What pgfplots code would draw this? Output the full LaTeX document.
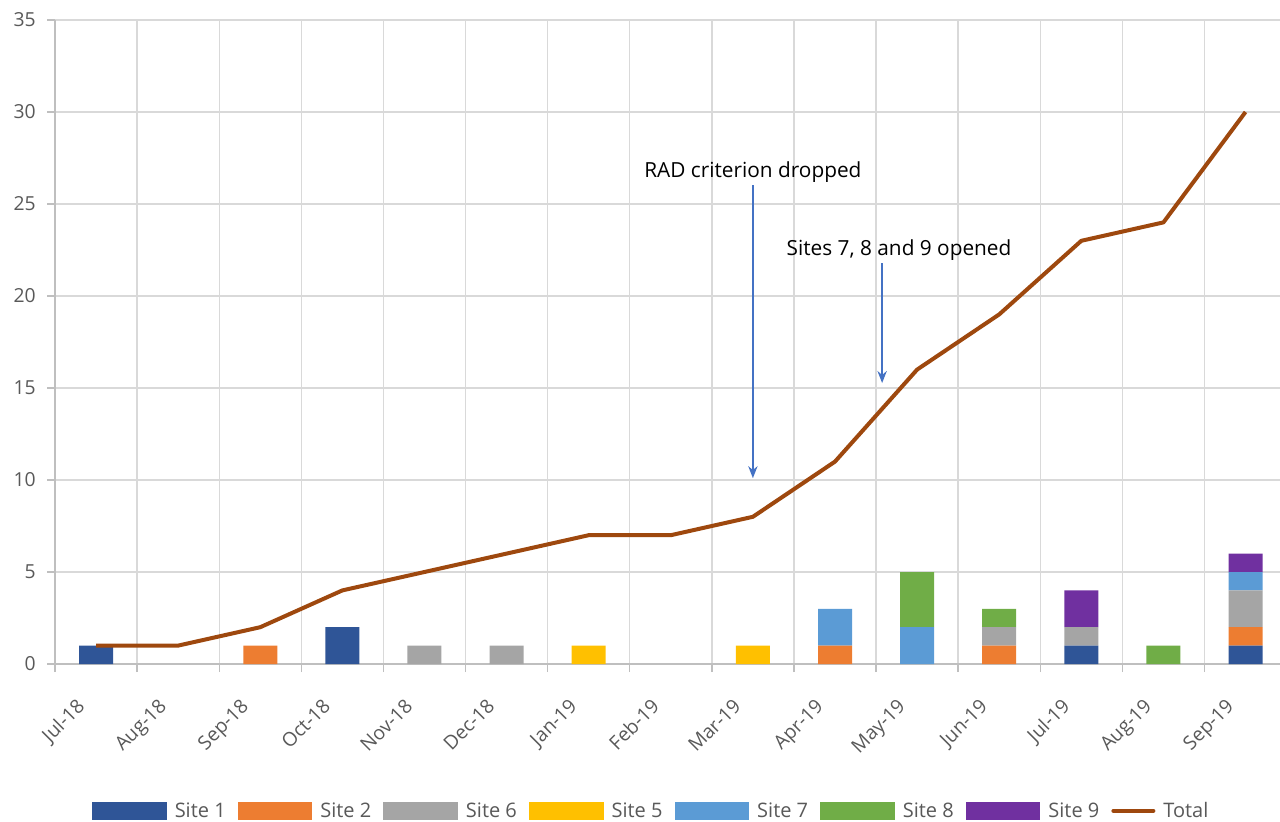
\documentclass[border=0pt]{standalone}
\usepackage{fontspec}
\setmainfont{Open Sans}
\usepackage{pgfplots}
\usepackage{pgfplotstable}
\pgfplotsset{compat=1.18}
\usetikzlibrary{arrows.meta}
\definecolor{sA}{HTML}{2F5597}
\definecolor{sB}{HTML}{ED7D31}
\definecolor{sC}{HTML}{A5A5A5}
\definecolor{sD}{HTML}{FFC000}
\definecolor{sE}{HTML}{5B9BD5}
\definecolor{sF}{HTML}{70AD47}
\definecolor{sG}{HTML}{7030A0}
\definecolor{tot}{HTML}{9E480E}
\definecolor{arr}{HTML}{4472C4}
\definecolor{txt}{HTML}{595959}
\definecolor{gridc}{HTML}{D9D9D9}
\definecolor{axc}{HTML}{BFBFBF}
\pgfplotstableread{
x s1 s2 s6 s5 s7 s8 s9 total
0 1 0 0 0 0 0 0 1
1 0 0 0 0 0 0 0 1
2 0 1 0 0 0 0 0 2
3 2 0 0 0 0 0 0 4
4 0 0 1 0 0 0 0 5
5 0 0 1 0 0 0 0 6
6 0 0 0 1 0 0 0 7
7 0 0 0 0 0 0 0 7
8 0 0 0 1 0 0 0 8
9 0 1 0 0 2 0 0 11
10 0 0 0 0 2 3 0 16
11 0 1 1 0 0 1 0 19
12 1 0 1 0 0 0 2 23
13 0 0 0 0 0 1 0 24
14 1 1 2 0 1 0 1 30
}\data
\pgfplotsset{
  barleg/.style={legend image code/.code={\fill[##1] (0pt,-6.5pt) rectangle (56pt,6.5pt);}},
}
\begin{document}
\begin{tikzpicture}
\begin{axis}[
  name=ax,
  scale only axis, width=918.75pt, height=483pt,
  xmin=-0.5, xmax=14.42, ymin=0, ymax=35,
  ybar stacked, bar width=25.5pt,
  axis x line*=bottom, axis y line*=left,
  x axis line style={draw=axc, line width=1.2pt},
  y axis line style={draw=axc, line width=1pt},
  xtick={-0.5,0.5,...,14.5}, xticklabels={},
  xmajorgrids, ymajorgrids,
  grid style={draw=gridc, line width=1pt},
  ytick={0,5,...,35},
  tick align=outside, major tick length=6pt,
  tick style={draw=axc, line width=1pt},
  extra x ticks={0,...,14},
  extra x tick labels={Jul-18,Aug-18,Sep-18,Oct-18,Nov-18,Dec-18,Jan-19,Feb-19,Mar-19,Apr-19,May-19,Jun-19,Jul-19,Aug-19,Sep-19},
  extra x tick style={grid=none, tick style={draw=none},
    xticklabel style={rotate=45, anchor=north east, xshift=-21pt, yshift=1pt}},
  /pgf/number format/assume math mode=true,
  ticklabel style={font=\fontsize{14.5pt}{16pt}\selectfont, text=txt},
  yticklabel style={xshift=-5pt},
  legend columns=8,
  legend style={draw=none, at={(0.487,-0.228)}, anchor=center,
    font=\fontsize{15pt}{17pt}\selectfont, text=txt,
    /tikz/every odd column/.append style={column sep=4pt},
    /tikz/every even column/.append style={column sep=7pt}},
  legend cell align=left,
]
\addplot[fill=sA, draw=none, barleg] table[x=x, y=s1] {\data};
\addlegendentry{Site 1}
\addplot[fill=sB, draw=none, barleg] table[x=x, y=s2] {\data};
\addlegendentry{Site 2}
\addplot[fill=sC, draw=none, barleg] table[x=x, y=s6] {\data};
\addlegendentry{Site 6}
\addplot[fill=sD, draw=none, barleg] table[x=x, y=s5] {\data};
\addlegendentry{Site 5}
\addplot[fill=sE, draw=none, barleg] table[x=x, y=s7] {\data};
\addlegendentry{Site 7}
\addplot[fill=sF, draw=none, barleg] table[x=x, y=s8] {\data};
\addlegendentry{Site 8}
\addplot[fill=sG, draw=none, barleg] table[x=x, y=s9] {\data};
\addlegendentry{Site 9}
\addlegendimage{legend image code/.code={\draw[tot, line width=3pt, line cap=round] (0pt,0pt) -- (30pt,0pt);}}
\addlegendentry{Total}
\end{axis}
\begin{axis}[
  at={(ax.south west)}, anchor=south west,
  scale only axis, width=918.75pt, height=483pt,
  xmin=-0.5, xmax=14.42, ymin=0, ymax=35,
  hide axis, clip=false,
]
\addplot[tot, line width=3pt, line join=round, mark=none] table[x=x, y=total] {\data};
\node[font=\fontsize{15.6pt}{17pt}\selectfont, text=black] at (axis cs:8,26.74) {RAD criterion dropped};
\draw[arr, line width=1.2pt, -{Stealth[length=9pt,width=7pt]}] (axis cs:8,26.03) -- (axis cs:8,10.1);
\node[font=\fontsize{15.6pt}{17pt}\selectfont, text=black] at (axis cs:9.78,22.5) {Sites 7, 8 and 9 opened};
\draw[arr, line width=1.2pt, -{Stealth[length=9pt,width=7pt]}] (axis cs:9.574,21.79) -- (axis cs:9.574,15.27);
\end{axis}
\pgfresetboundingbox
\path[use as bounding box] ([shift={(-41.25pt,-117.75pt)}]ax.south west) rectangle ([shift={(918.75pt,498pt)}]ax.south west);
\end{tikzpicture}
\end{document}
